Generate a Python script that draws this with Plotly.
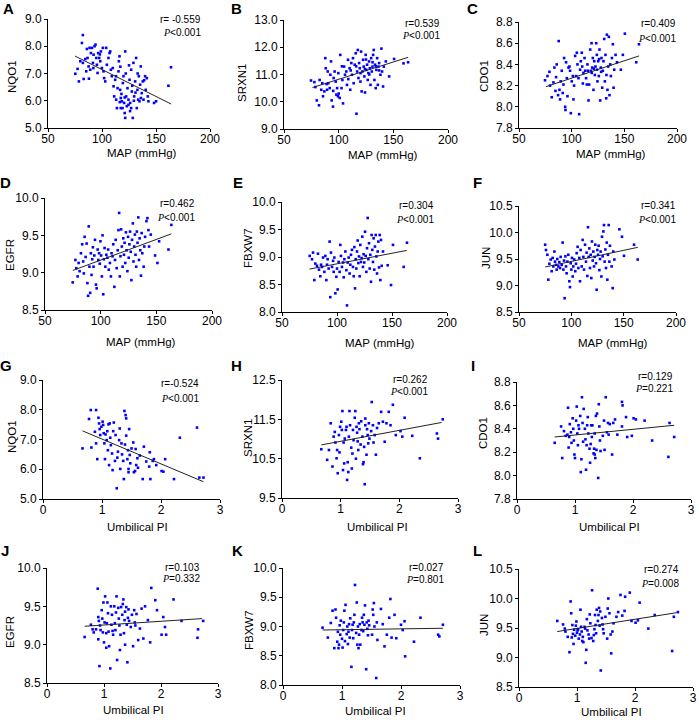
import plotly.graph_objects as go

W, H = 699, 720

# ---------------- data ----------------
panel_letters = list("ABCDEFGHIJKL")
genes = ["NQO1", "SRXN1", "CDO1", "EGFR", "FBXW7", "JUN"]
x_titles = ["MAP (mmHg)"] * 6 + ["Umbilical PI"] * 6
r_labels = ["r= -0.559", "r=0.539", "r=0.409", "r=0.462", "r=0.304", "r=0.341",
            "r=-0.524", "r=0.262", "r=0.129", "r=0.103", "r=0.027", "r=0.274"]
p_labels = ["<0.001"] * 6 + ["<0.001", "<0.001", "=0.221", "=0.332", "=0.801", "=0.008"]

map_ticks = [50, 100, 150, 200]
pi_ticks = [0, 1, 2, 3]
y_ranges = [[5, 9], [9, 13], [7.8, 8.8], [8.5, 10], [8, 10], [8.5, 10.5],
            [5, 9], [9.5, 12.5], [7.8, 8.8], [8.5, 10], [8, 10], [8.5, 10.5]]
y_dticks = [1, 1, 0.2, 0.5, 0.5, 0.5, 1, 1, 0.2, 0.5, 0.5, 0.5]

# regression line end points (x, y)
fit_x = [[75, 164], [76, 163.5], [75.5, 164], [75, 163.5], [75, 163.5], [75, 163.5],
         [0.67, 2.72], [0.67, 2.72], [0.65, 2.71], [0.66, 2.72], [0.67, 2.71], [0.66, 2.72]]
fit_y = [[7.64, 5.88], [10.52, 11.63], [8.19, 8.48], [9.03, 9.52], [8.78, 9.12], [9.35, 9.72],
         [7.29, 5.58], [10.85, 11.42], [8.33, 8.43], [9.24, 9.34], [8.94, 8.97], [9.44, 9.76]]

A_pts = [(82.3,8.41),(81.4,8.12),(75.3,6.99),(77.4,7.17),(78.6,6.71),(79.9,7.45),(82.3,7.39),(83,6.8),
         (84.5,7.53),(85.4,7.08),(86.6,7.57),(87.6,7.26),(88.5,7.94),(89.1,7.14),(87.9,6.81),(89.7,7.75),
         (90.7,7.94),(91.6,7.39),(92.2,7.69),(93.1,8.0),(94.0,8.06),(94.7,7.57),(95.3,7.32),(95.9,7.02),
         (96.5,7.75),(97.4,7.57),(98.4,7.45),(99.0,7.81),(99.9,7.2),(100.8,7.94),(101.4,7.08),(102.0,6.83),
         (103,6.71),(103.9,7.94),(104.5,7.32),(106,7.57),(107,7.75),(107.6,7.81),(108.2,7.14),(109.1,6.9),
         (110.7,6.53),(111.3,6.16),(112.2,6.77),(113.1,6.04),(113.8,5.73),(114.4,6.46),(115.3,7.08),(115.6,7.45),
         (116.2,7.63),(116.8,6.4),(117.4,6.1),(117.4,5.73),(118.4,5.98),(119.3,6.65),(119.9,6.9),(120.5,5.92),
         (121.5,5.37),(121.5,7.81),(122.4,6.16),(123.0,5.8),(123.6,6.46),(124.5,6.04),(125.5,6.77),(126.1,5.92),
         (127.0,7.14),(127.6,6.34),(128.5,5.37),(129.1,7.39),(129.8,6.16),(130.7,6.71),(131.6,7.57),(132.2,5.73),
         (132.8,6.4),(133.5,6.04),(134.1,6.9),(134.7,5.98),(135.3,6.59),(135.9,7.26),(136.8,6.28),(137.8,6.71),
         (138.4,6.04),(139.9,6.9),(140.5,6.4),(141.5,6.83),(142.4,6.16),(143.0,5.98),(148.2,5.92),(150.1,5.98),
         (161.5,6.55),(163.9,7.23),(116.5,5.95),(119.0,5.73),(121.0,6.12),(124.5,5.85),(127.0,5.73),(129.5,6.0),
         (121.0,5.55),(126.0,5.62),(118.0,6.25),(131.0,6.3),(136.0,6.1),(139.0,6.75),(113.0,6.9),(125.0,7.3),
         (128.0,6.55),(133.0,7.0),(110.0,7.2),(117.0,7.25),(122.0,7.0),(98.0,7.7),(92.0,7.2),(86.0,7.9)]

B_pts = [(74.7,10.78),(77.8,10.72),(78.7,10.54),(80,10.05),(82,9.87),(82.6,10.8),(84.1,10.44),(85,10.68),
         (85.7,10.2),(86.9,10.38),(87.8,11.6),(88.2,11.23),(89.4,10.44),(90,11.11),(90.5,10.68),(91.8,10.5),
         (92.4,10.99),(93,11.48),(93.6,10.05),(94.8,9.82),(95.4,10.87),(96.3,11.11),(97.3,10.74),(97.9,10.26),
         (98.6,10.5),(99.4,10.2),(99.7,11.05),(101,10.14),(101.5,11.72),(102.6,10.5),(103.4,10.8),(104,9.94),
         (105,11.29),(105.8,10.99),(107,11.11),(107.6,10.62),(108.5,11.54),(108.8,10.83),(110,11.23),(110.6,10.44),
         (111.6,11.42),(112.2,10.99),(113.1,11.6),(113.7,10.68),(114.7,11.36),(115.6,11.78),(116.3,9.56),(116.9,11.11),
         (117.5,11.9),(118.1,10.87),(118.7,11.42),(119.3,11.23),(119.9,10.74),(120.5,11.84),(121,10.38),(121.7,11.11),
         (122.3,11.54),(122.9,11.29),(123.5,10.93),(124.1,10.34),(124.7,11.72),(125.3,11.17),(126,11.36),(126.6,10.8),
         (127.2,11.05),(127.8,11.48),(128.5,11.23),(129.1,10.62),(129.7,11.6),(130.3,11.11),(130.9,11.29),(131.5,11.72),
         (132.1,11.9),(132.7,10.8),(133.3,11.36),(133.9,10.5),(134.5,11.17),(135.2,11.6),(135.8,10.62),(136.4,11.29),
         (137,11.42),(138.2,10.99),(139.1,11.95),(139.7,11.11),(140.6,10.56),(141.3,11.29),(143.1,11.48),(146.2,10.93),
         (150.7,11.57),(159.3,11.41),(163.5,11.45),(120.0,11.05),(124.0,11.2),(128.0,11.0),(116.0,11.3),(131.0,11.45),
         (137.0,11.15),(111.0,11.15),(125.0,11.55),(134.0,11.3),(89.0,10.65),(95.0,10.4),(103.0,11.3),(100.0,10.3)]

C_pts = [(74.7,8.25),(77,8.29),(78.9,8.33),(79.5,8.2),(81.1,8.09),(82.7,8.23),(83.6,8.37),(84.6,8.15),
         (85.2,8.28),(85.8,8.4),(87.1,8.11),(87.7,8.62),(88.4,8.16),(89,8.07),(89.6,8.24),(90.6,8.34),
         (91.5,8.13),(92.2,8.21),(92.8,8.46),(93.8,8.0),(94.1,7.97),(94.7,8.42),(95.4,8.27),(96,8.1),
         (97,8.37),(97.9,8.38),(98.5,8.34),(99.2,7.94),(100.1,8.24),(101.1,8.29),(101.7,8.07),(102.3,8.2),
         (103.3,8.48),(104.2,8.29),(104.9,8.51),(105.5,8.4),(106.5,8.27),(107.1,7.93),(108,8.35),(108.7,8.43),
         (109.6,8.51),(110.6,8.22),(111.2,8.32),(112.2,8.46),(112.8,8.34),(113.7,8.27),(114.4,8.21),(115.3,8.34),
         (116,8.06),(116.6,8.21),(117.6,8.54),(118.2,8.34),(118.9,8.6),(119.5,8.37),(120.1,8.46),(120.7,8.16),
         (121.4,8.43),(122,8.3),(122.6,8.38),(123.3,8.6),(123.9,8.49),(124.5,8.24),(125.2,8.43),(125.8,8.29),
         (126.4,8.54),(127.1,8.06),(127.7,8.37),(128.3,8.46),(129,8.18),(129.6,8.34),(130.2,8.43),(130.9,8.64),
         (131.5,8.24),(132.1,8.49),(132.8,8.08),(133.4,8.68),(134,8.16),(134.7,8.38),(135.3,8.66),(135.9,8.11),
         (136.6,8.4),(137.2,8.29),(138.2,8.46),(139.1,8.59),(139.8,8.18),(140.4,8.35),(141.7,8.49),(143,8.42),
         (146.7,8.35),(148.6,8.49),(150.5,8.69),(161.3,8.42),(163.9,8.59),(119.0,8.32),(124.0,8.35),(128.0,8.33),
         (121.0,8.36),(115.0,8.4),(133.0,8.3),(110.0,8.38),(126.0,8.45)]

D_pts = [(74.9,8.87),(77.3,9.17),(78.1,9.06),(79.3,8.95),(80.2,9.13),(81.1,9.02),(82.3,9.26),(83.4,9.38),
         (84.3,9.15),(84.9,8.99),(85.6,9.48),(86.5,9.21),(87.4,9.39),(88.1,8.86),(88.7,8.69),(89.3,9.62),
         (89.9,9.08),(90.6,8.73),(91.2,9.26),(91.8,8.97),(92.4,9.18),(93,9.34),(93.6,9.08),(94.3,9.23),
         (94.9,9.44),(95.8,8.84),(96.4,8.79),(97.3,9.31),(97.9,9.17),(98.6,9.26),(99.2,9.12),(99.8,9.42),
         (100.4,9.23),(101.1,8.95),(101.7,9.5),(102.3,8.71),(102.9,9.18),(103.5,9.33),(104.2,9.08),(105.1,9.24),
         (106,9.2),(106.7,9.31),(107.3,9.04),(108.3,9.13),(109.2,8.95),(109.8,9.26),(110.7,9.22),(111.3,9.38),
         (112.3,8.81),(112.9,9.17),(113.5,9.44),(114.4,9.06),(115.3,9.3),(116,9.57),(116.6,9.8),(117.2,8.95),
         (117.8,9.22),(118.4,9.58),(119,9.35),(119.7,9.08),(120.3,9.46),(120.9,9.24),(121.5,9.4),(122.1,9.13),
         (122.7,9.54),(123.3,9.3),(124,9.02),(124.6,9.48),(125.2,9.2),(125.8,9.38),(126.4,9.55),(127,9.28),
         (127.6,8.9),(128.2,9.44),(128.9,9.66),(129.5,9.15),(130.1,9.35),(130.7,9.51),(131.3,9.24),(131.9,9.08),
         (132.5,9.55),(133.1,9.4),(133.8,9.74),(134.4,9.17),(135,9.46),(135.6,9.3),(136.2,8.96),(136.8,9.53),
         (137.4,9.26),(138.6,9.08),(139.2,9.35),(139.9,9.48),(141.1,9.69),(142,9.73),(142.9,9.57),(143.5,9.35),
         (145,9.51),(148.9,9.23),(151,9.13),(152.5,9.42),(160.9,9.31),(163.5,9.64)]

E_pts = [(75.2,9.02),(77.3,8.96),(78.2,9.08),(79.4,8.58),(80.3,8.88),(81.8,8.84),(82.7,9.06),(83.6,8.77),
         (84.8,8.65),(85.5,8.86),(86.4,8.82),(87.3,8.99),(88.5,8.73),(89.4,9.02),(90.3,8.58),(90.9,8.86),
         (91.5,8.96),(92.4,8.79),(93.3,9.28),(93.9,8.27),(94.5,9.08),(95.5,8.82),(96.4,8.93),(97,8.73),
         (97.6,8.99),(98.5,8.34),(99.4,8.64),(100,8.79),(100.6,8.41),(101.5,8.91),(102.4,8.73),(103,9.22),
         (103.6,9.02),(104.5,8.82),(105.5,8.9),(106.1,8.63),(106.7,8.96),(107.6,9.1),(108.5,8.76),(109.1,8.12),
         (109.7,8.9),(110.6,8.99),(111.5,8.7),(112.1,8.86),(112.7,9.04),(113.6,9.13),(114.5,8.82),(115.2,8.65),
         (115.8,9.18),(116.4,8.43),(117,8.96),(117.6,8.79),(118.2,9.1),(118.8,9.3),(119.4,8.89),(120,9.01),
         (120.6,8.65),(121.2,9.22),(121.8,8.91),(122.4,8.98),(123,9.37),(123.6,8.82),(124.2,9.05),(124.8,8.9),
         (125.5,9.46),(126.1,9.02),(126.7,8.73),(127.3,9.16),(127.9,9.71),(128.5,8.96),(129.1,9.25),(129.7,8.79),
         (130.3,9.04),(130.9,8.55),(131.5,9.4),(132.1,9.13),(132.7,8.91),(133.3,9.34),(133.9,8.77),(134.5,9.19),
         (135.2,9.4),(135.8,9.01),(136.4,8.7),(137,9.1),(137.6,9.28),(138.2,8.81),(138.8,9.4),(139.4,8.58),
         (140,9.31),(140.6,8.84),(141.8,9.1),(146.1,8.85),(149.1,8.49),(150.9,9.22),(160.6,8.82),(163.6,9.26)]

F_pts = [(75,9.77),(75.8,9.67),(77.1,9.58),(78,9.11),(79,9.41),(80.3,9.49),(81.2,9.27),(82.2,9.52),
         (82.8,9.36),(83.8,9.64),(84.4,9.45),(85.4,9.39),(86,9.3),(86.6,9.5),(87.6,9.36),(88.5,9.44),
         (89.2,9.33),(89.8,9.54),(90.8,9.39),(91.7,9.81),(92.4,9.3),(93,9.47),(93.6,8.76),(94.3,9.55),
         (94.9,9.36),(95.5,9.23),(96.2,9.45),(97.1,9.58),(98.1,9.08),(98.7,8.97),(99.4,9.42),(100,9.3),
         (100.6,9.52),(101.3,9.17),(101.9,9.36),(102.8,9.49),(103.8,9.27),(104.5,9.41),(105.1,9.61),(106,9.73),
         (106.7,9.33),(107.6,9.52),(108.3,9.08),(108.9,9.67),(109.9,9.36),(110.8,9.86),(111.5,9.54),(112.1,9.3),
         (113.1,9.77),(114,9.45),(114.6,9.62),(115.3,9.18),(115.9,10.1),(116.6,9.54),(117.2,9.7),(117.8,9.33),
         (118.5,9.58),(119.1,9.14),(119.7,9.83),(120.4,9.47),(121,9.64),(121.7,9.36),(122.3,9.54),(122.9,9.77),
         (123.6,9.42),(124.2,8.92),(124.8,9.67),(125.5,9.58),(126.1,9.75),(126.8,9.29),(127.4,9.5),(128,9.64),
         (128.7,9.17),(129.3,9.92),(129.9,9.55),(130.6,10.02),(131.2,10.14),(131.8,9.45),(132.5,9.68),(133.1,9.33),
         (133.8,9.81),(134.4,9.11),(135,9.58),(135.7,10.14),(136.3,9.45),(136.9,9.75),(138.5,9.36),(139.5,8.95),
         (140.1,9.64),(141.1,9.49),(145.9,10.06),(148.4,9.92),(150.3,9.56),(159.9,9.77),(163.4,9.49)]

G_pts = [(0.67,6.7),(0.78,7.69),(0.82,6.73),(0.81,7.99),(0.88,7.26),(0.9,7.99),(0.9,6.87),(0.92,6.34),
         (0.94,7.73),(0.95,7.54),(0.96,7.35),(0.97,7.15),(0.99,7.43),(1.01,7.6),(1.02,7.49),(1.03,7.21),
         (1.04,6.87),(1.05,6.34),(1.06,7.17),(1.08,6.98),(1.09,7.28),(1.1,6.64),(1.11,7.51),(1.12,6.14),
         (1.13,7.54),(1.14,7.06),(1.15,6.81),(1.17,6.53),(1.18,5.97),(1.19,7.28),(1.2,7.57),(1.22,6.28),
         (1.23,7.15),(1.25,5.36),(1.26,6.39),(1.27,6.59),(1.29,6.98),(1.3,7.37),(1.31,6.01),(1.33,6.87),
         (1.34,6.5),(1.36,6.28),(1.37,5.67),(1.38,7.96),(1.39,6.83),(1.4,7.82),(1.41,7.71),(1.41,7.13),
         (1.43,6.34),(1.44,6.64),(1.45,6.01),(1.45,5.9),(1.46,7.35),(1.47,6.48),(1.48,6.2),(1.5,6.7),
         (1.53,6.9),(1.54,5.9),(1.56,5.94),(1.57,6.68),(1.58,6.14),(1.6,6.37),(1.61,6.05),(1.64,6.46),
         (1.69,5.67),(1.71,6.76),(1.75,6.26),(1.8,6.09),(1.81,6.57),(1.82,5.67),(1.86,6.28),(1.88,6.34),
         (1.92,6.14),(2.01,5.94),(2.04,5.92),(2.07,6.34),(2.22,5.67),(2.32,7.06),(2.61,7.4),(2.65,5.72),
         (2.72,5.72)]

H_pts = [(0.67,10.74),(0.77,10.47),(0.8,10.72),(0.83,11.4),(0.86,10.3),(0.88,11.06),(0.9,11.18),(0.91,10.91),
         (0.93,10.51),(0.94,10.72),(0.95,10.13),(0.97,11.1),(0.98,10.66),(0.99,11.31),(1.01,11.44),(1.02,11.23),
         (1.03,11.71),(1.04,10.21),(1.05,10.91),(1.06,10.38),(1.07,11.01),(1.09,11.23),(1.1,11.31),(1.11,9.96),
         (1.12,10.41),(1.13,10.16),(1.14,11.06),(1.15,11.71),(1.16,11.35),(1.18,10.78),(1.19,10.25),(1.2,10.63),
         (1.21,11.23),(1.22,10.97),(1.24,11.54),(1.25,11.71),(1.26,10.5),(1.27,11.31),(1.28,11.16),(1.29,10.94),
         (1.3,10.72),(1.31,11.4),(1.32,11.25),(1.34,10.86),(1.35,11.45),(1.37,11.06),(1.38,10.36),(1.39,10.41),
         (1.4,10.8),(1.41,9.85),(1.42,11.52),(1.42,11.35),(1.44,10.6),(1.45,11.25),(1.46,11.1),(1.47,10.89),
         (1.48,11.4),(1.49,11.01),(1.52,11.2),(1.53,11.94),(1.55,11.35),(1.56,10.91),(1.58,11.1),(1.6,10.6),
         (1.62,11.28),(1.65,11.4),(1.69,11.69),(1.72,11.44),(1.75,10.93),(1.78,11.4),(1.82,11.69),(1.85,11.35),
         (1.89,11.87),(1.94,11.1),(2.02,11.2),(2.05,11.06),(2.09,11.54),(2.22,11.08),(2.35,10.51),(2.64,11.14),
         (2.66,11.01),(2.74,11.5)]

I_pts = [(0.65,8.28),(0.76,8.42),(0.78,8.15),(0.81,8.38),(0.84,8.34),(0.87,8.35),(0.88,8.58),(0.89,8.24),
         (0.9,8.33),(0.91,8.44),(0.93,8.37),(0.94,8.28),(0.96,8.49),(0.97,8.4),(0.98,8.3),(0.99,8.18),
         (1.0,8.15),(1.02,8.47),(1.03,8.59),(1.04,8.36),(1.05,8.26),(1.06,8.43),(1.07,8.4),(1.09,8.51),
         (1.1,8.03),(1.11,8.14),(1.12,8.67),(1.13,8.45),(1.14,8.29),(1.15,8.57),(1.17,8.4),(1.18,8.31),
         (1.19,8.05),(1.2,8.26),(1.21,8.43),(1.22,8.5),(1.23,8.36),(1.25,8.23),(1.26,8.11),(1.27,8.27),
         (1.28,8.43),(1.29,8.33),(1.3,8.43),(1.32,8.19),(1.33,8.23),(1.34,8.36),(1.34,8.18),(1.35,8.15),
         (1.36,8.51),(1.37,8.22),(1.38,8.53),(1.4,7.98),(1.41,8.61),(1.42,8.42),(1.43,8.3),(1.44,8.21),
         (1.48,8.34),(1.5,8.47),(1.51,8.22),(1.53,8.67),(1.55,8.37),(1.57,8.45),(1.58,8.35),(1.6,8.44),
         (1.64,8.18),(1.66,8.45),(1.69,8.48),(1.73,8.35),(1.81,8.42),(1.81,8.63),(1.82,8.6),(1.88,8.5),
         (1.9,8.33),(1.98,8.34),(2.01,8.49),(2.05,8.48),(2.2,8.47),(2.33,8.3),(2.61,8.16),(2.63,8.45),
         (2.71,8.33)]

J_pts = [(0.66,9.1),(0.77,9.26),(0.8,9.2),(0.82,9.16),(0.86,9.2),(0.89,9.73),(0.9,9.36),(0.91,9.31),
         (0.9,9.07),(0.92,8.72),(0.93,9.25),(0.94,9.19),(0.96,9.45),(0.97,9.34),(0.98,9.16),(0.99,9.55),
         (1.0,9.03),(1.01,9.29),(1.02,9.63),(1.04,8.96),(1.04,9.15),(1.05,9.28),(1.06,9.55),(1.07,9.41),
         (1.08,9.17),(1.09,8.98),(1.11,8.69),(1.12,9.5),(1.13,9.26),(1.14,9.39),(1.15,9.18),(1.16,9.13),
         (1.18,9.5),(1.19,9.28),(1.2,9.19),(1.21,9.42),(1.22,9.63),(1.23,8.8),(1.25,9.48),(1.26,9.34),
         (1.27,9.25),(1.28,8.93),(1.29,9.13),(1.3,9.49),(1.32,9.39),(1.33,9.53),(1.34,9.59),(1.35,9.15),
         (1.36,9.32),(1.37,9.0),(1.37,9.43),(1.39,9.49),(1.4,9.26),(1.41,8.77),(1.42,9.35),(1.43,9.46),
         (1.44,9.31),(1.47,9.23),(1.49,9.39),(1.51,8.98),(1.53,9.45),(1.54,9.29),(1.55,9.25),(1.57,9.4),
         (1.6,9.06),(1.63,9.21),(1.66,9.47),(1.69,9.08),(1.72,9.5),(1.77,9.32),(1.81,9.03),(1.83,9.74),
         (1.9,9.58),(1.93,9.45),(2.01,9.13),(2.04,9.36),(2.07,9.23),(2.09,9.13),(2.22,9.59),(2.36,9.31),
         (2.64,9.09),(2.65,9.2),(2.74,9.31)]

K_pts = [(0.67,8.98),(0.76,8.81),(0.81,9.06),(0.84,9.27),(0.87,8.63),(0.89,9.29),(0.9,9.15),(0.92,8.74),
         (0.93,8.91),(0.94,8.63),(0.95,8.69),(0.96,9.02),(0.97,8.86),(0.98,9.1),(1.0,8.79),(1.01,8.64),
         (1.02,8.94),(1.03,9.07),(1.04,9.27),(1.05,8.75),(1.06,9.37),(1.08,8.87),(1.09,9.0),(1.1,8.7),
         (1.11,8.91),(1.12,9.04),(1.13,8.81),(1.14,9.14),(1.16,8.31),(1.17,8.94),(1.18,9.03),(1.19,8.8),
         (1.2,9.07),(1.21,9.2),(1.22,9.71),(1.24,8.89),(1.25,9.41),(1.26,8.69),(1.27,9.0),(1.28,8.63),
         (1.29,8.86),(1.3,9.04),(1.31,8.69),(1.33,8.94),(1.34,9.15),(1.35,9.07),(1.36,8.92),(1.37,9.2),
         (1.38,9.03),(1.39,9.36),(1.41,8.27),(1.42,9.07),(1.43,8.96),(1.44,8.85),(1.45,9.1),(1.46,9.02),
         (1.51,8.86),(1.52,9.29),(1.53,9.2),(1.54,9.4),(1.55,9.0),(1.58,8.12),(1.59,9.07),(1.6,8.77),
         (1.66,9.3),(1.69,9.04),(1.72,8.66),(1.76,8.86),(1.8,9.15),(1.82,9.47),(1.84,8.81),(1.89,9.2),
         (1.92,8.8),(2.0,9.03),(2.03,8.94),(2.06,9.09),(2.07,8.49),(2.22,8.74),(2.33,9.15),(2.63,8.86),
         (2.65,8.83),(2.71,9.03)]

L_pts = [(0.66,9.62),(0.76,9.56),(0.79,9.49),(0.8,9.44),(0.84,9.35),(0.87,9.09),(0.89,9.95),(0.9,9.75),
         (0.91,9.34),(0.92,9.55),(0.93,9.4),(0.94,9.23),(0.95,9.47),(0.97,9.37),(0.98,9.54),(0.99,9.61),
         (1.0,9.42),(1.01,9.46),(1.02,9.48),(1.03,9.32),(1.05,9.39),(1.06,9.81),(1.07,9.52),(1.08,9.44),
         (1.09,9.28),(1.1,9.35),(1.11,9.26),(1.13,9.52),(1.14,9.49),(1.15,8.91),(1.16,9.13),(1.17,9.65),
         (1.18,9.46),(1.2,9.39),(1.21,9.32),(1.22,9.73),(1.23,9.58),(1.25,9.33),(1.26,10.14),(1.28,9.28),
         (1.29,9.38),(1.3,9.48),(1.31,9.72),(1.32,9.55),(1.33,9.41),(1.34,9.81),(1.36,9.62),(1.37,9.72),
         (1.38,9.84),(1.39,9.54),(1.4,9.78),(1.41,8.78),(1.43,9.67),(1.44,9.56),(1.45,9.48),(1.46,9.41),
         (1.49,9.69),(1.52,9.32),(1.53,9.83),(1.54,10.0),(1.56,9.75),(1.58,9.39),(1.59,9.07),(1.61,9.44),
         (1.63,9.58),(1.68,9.69),(1.71,9.77),(1.75,10.06),(1.78,9.71),(1.82,9.79),(1.83,10.03),(1.91,10.1),
         (1.94,9.62),(2.01,9.59),(2.05,9.63),(2.08,9.93),(2.23,9.49),(2.34,9.72),(2.64,9.11),(2.67,9.69),
         (2.74,9.77)]

all_points = [A_pts, B_pts, C_pts, D_pts, E_pts, F_pts, G_pts, H_pts, I_pts, J_pts, K_pts, L_pts]

# ---------------- layout (pixel boxes: left, right, top, bottom) ----------------
boxes = [(48, 210, 19, 128), (284, 448, 20, 129), (519, 677, 22, 128),
         (45, 212, 198, 310), (282, 447, 202, 312), (519, 676, 206, 312),
         (43, 220, 380, 499), (282, 458, 380, 498), (517, 691, 382, 499),
         (47, 218, 568, 683), (283, 460, 568, 685), (519, 693, 569, 687)]
stat_pos = [(203, 19, 33), (442, 23, 35), (678, 24, 38),
            (197, 203, 217), (436, 205, 219), (678, 205, 219),
            (201, 383, 398), (430, 379, 392), (675, 376, 388),
            (202, 567, 578), (446, 567, 579), (681, 569, 583)]
letter_pos = [(8, 9), (236, 9), (472, 9), (5, 182), (238, 182), (477, 182),
              (6, 365), (236, 365), (473, 365), (5, 550), (237, 550), (477, 550)]
xtitle_pos = [(142, 153), (383, 155), (611, 154), (141, 342), (380, 343), (613, 343),
              (137, 527), (377, 527), (609, 527), (133, 710), (375, 711), (611, 712)]
ytitle_pos = [(12, 77), (242, 83), (484, 76), (10, 255), (248, 248), (486, 258),
              (12, 437), (248, 438), (483, 433), (10, 632), (249, 630), (484, 625)]

FONT = "Arial, Liberation Sans, sans-serif"
fig = go.Figure()
annotations = []
layout_axes = {}


def txt(x, y, text, size, xanchor="center", angle=0):
    return dict(x=x / W, y=1 - y / H, xref="paper", yref="paper", xanchor=xanchor,
                yanchor="middle", showarrow=False, text=text, textangle=angle,
                font=dict(family=FONT, size=size, color="#000000"))


for i in range(12):
    n = i + 1
    xa = "x" if n == 1 else f"x{n}"
    ya = "y" if n == 1 else f"y{n}"
    pts = all_points[i]
    xs = [p[0] for p in pts]
    ys = [p[1] for p in pts]
    fig.add_trace(go.Scatter(x=xs, y=ys, mode="markers", xaxis=xa, yaxis=ya,
                             marker=dict(symbol="square", size=2.6, color="#0000ff", line=dict(width=0)),
                             showlegend=False, hoverinfo="x+y"))
    fig.add_trace(go.Scatter(x=fit_x[i], y=fit_y[i], mode="lines", xaxis=xa, yaxis=ya,
                             line=dict(color="#222222", width=1), showlegend=False, hoverinfo="skip"))
    l, r, t, b = boxes[i]
    is_map = i < 6
    xkey = "xaxis" if n == 1 else f"xaxis{n}"
    ykey = "yaxis" if n == 1 else f"yaxis{n}"
    common = dict(showline=True, linecolor="#000000", linewidth=1, ticks="outside", ticklen=3,
                  tickcolor="#000000", tickwidth=1, showgrid=False, zeroline=False, automargin=False,
                  tickfont=dict(family=FONT, size=12, color="#000000"))
    layout_axes[xkey] = dict(domain=[l / W, r / W], anchor=ya,
                             range=[50, 200] if is_map else [0, 3],
                             tickvals=map_ticks if is_map else pi_ticks,
                             ticklabelstandoff=-3, **common)
    layout_axes[ykey] = dict(domain=[1 - b / H, 1 - t / H], anchor=xa,
                             range=y_ranges[i], dtick=y_dticks[i], tick0=y_ranges[i][0],
                             tickformat=".1f", **common)
    sx, ry, py = stat_pos[i]
    annotations.append(txt(sx, ry, r_labels[i], 10, "right"))
    annotations.append(txt(sx, py,
                           "<span style='font-family:Liberation Serif, Times New Roman, serif'><i>P</i></span>"
                           + p_labels[i].replace("<", "&lt;"), 10, "right"))
    lx, ly = letter_pos[i]
    annotations.append(txt(lx, ly, "<b>" + panel_letters[i] + "</b>", 15))
    tx, ty = xtitle_pos[i]
    annotations.append(txt(tx, ty, x_titles[i], 11.5))
    vx, vy = ytitle_pos[i]
    annotations.append(txt(vx, vy, genes[i % 6], 11.5, angle=-90))

fig.update_layout(width=W, height=H, margin=dict(l=0, r=0, t=0, b=0, autoexpand=False),
                  paper_bgcolor="white", plot_bgcolor="white",
                  annotations=annotations, **layout_axes)

fig.write_html("out.html", config={"displayModeBar": False},
               post_script="document.body.style.margin='0';")
